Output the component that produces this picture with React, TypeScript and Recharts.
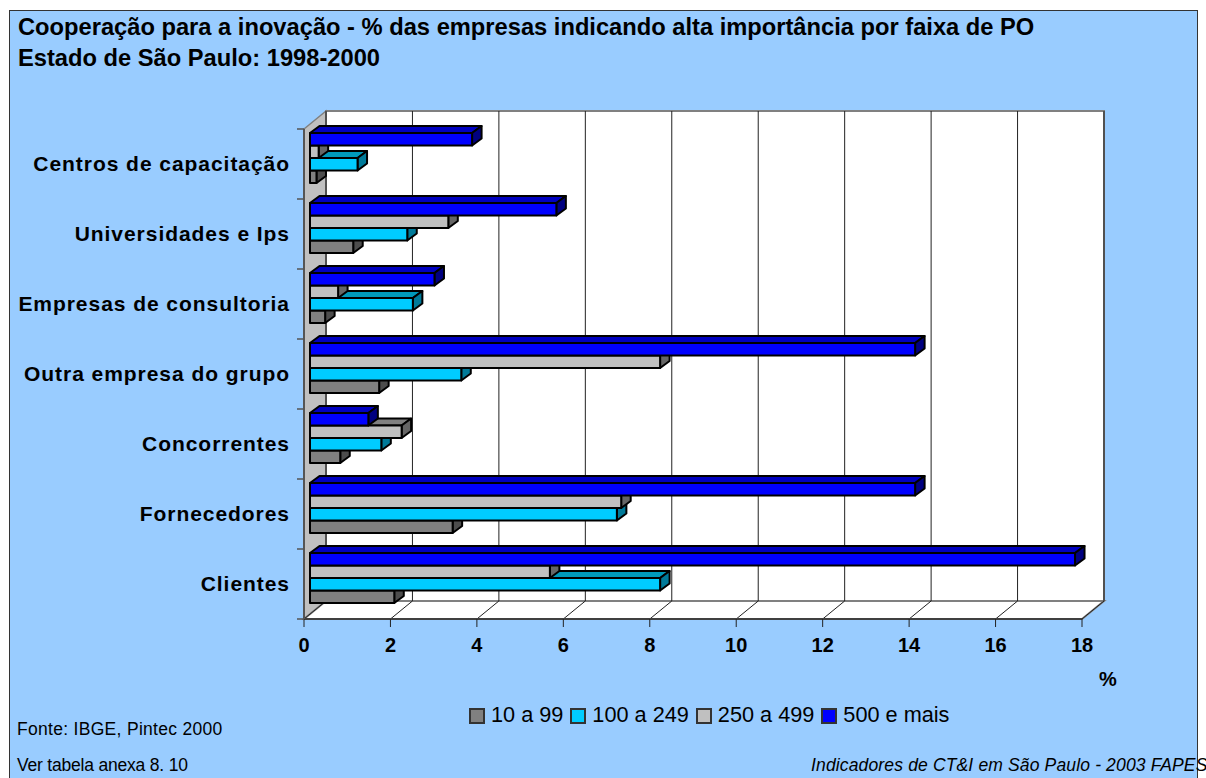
import { Bar, BarChart, CartesianGrid, Legend, XAxis, YAxis } from "recharts"

const categories = [
  "Centros de capacitação",
  "Universidades e Ips",
  "Empresas de consultoria",
  "Outra empresa do grupo",
  "Concorrentes",
  "Fornecedores",
  "Clientes",
]
const s500 = [3.75, 5.7, 2.88, 14.0, 1.35, 14.0, 17.7]
const s250 = [0.2, 3.2, 0.65, 8.1, 2.12, 7.2, 5.55]
const s100 = [1.1, 2.25, 2.38, 3.5, 1.65, 7.1, 8.1]
const s10 = [0.15, 1.0, 0.35, 1.6, 0.7, 3.3, 1.95]
const xTicks = [0, 2, 4, 6, 8, 10, 12, 14, 16, 18]

const data = categories.map((name, i) => ({
  name,
  "500 e mais": s500[i],
  "250 a 499": s250[i],
  "100 a 249": s100[i],
  "10 a 99": s10[i],
}))

const FONT = "'Liberation Sans', Arial, sans-serif"
const WALL_DX = 22
const WALL_DY = 18
const BAR_DX = 9.5
const BAR_DY = 7

// darker faces of each bar colour: [top, side]
const faces: Record<string, [string, string]> = {
  "#0000ff": ["#0000c0", "#000080"],
  "#c0c0c0": ["#808080", "#666666"],
  "#00ccff": ["#0099bb", "#007a99"],
  "#808080": ["#606060", "#4d4d4d"],
}

function Bar3D(props: any) {
  const { x, y, width, height, fill } = props
  const fx = x + 6
  const fy = y - 6
  const [top, side] = faces[fill]
  return (
    <g stroke="#000" strokeWidth={2} strokeLinejoin="round">
      <polygon
        points={`${fx},${fy} ${fx + BAR_DX},${fy - BAR_DY} ${fx + width + BAR_DX},${fy - BAR_DY} ${fx + width},${fy}`}
        fill={top}
      />
      <polygon
        points={`${fx + width},${fy} ${fx + width + BAR_DX},${fy - BAR_DY} ${fx + width + BAR_DX},${fy + height - BAR_DY} ${fx + width},${fy + height}`}
        fill={side}
      />
      <rect x={fx} y={fy} width={width} height={height} fill={fill} />
    </g>
  )
}

function GridLine(props: any) {
  const { x1, y1, y2 } = props
  return (
    <g stroke="#222" strokeWidth={1}>
      <line x1={x1 + WALL_DX} y1={y1 - WALL_DY} x2={x1 + WALL_DX} y2={y2 - WALL_DY} />
      <line x1={x1} y1={y2} x2={x1 + WALL_DX} y2={y2 - WALL_DY} />
    </g>
  )
}

function CategoryTick(props: any) {
  const { x, y, payload, index } = props
  return (
    <g>
      <line x1={297} y1={y - 35} x2={304} y2={y - 35} stroke="#555" strokeWidth={1.5} />
      {index === categories.length - 1 && (
        <line x1={297} y1={y + 35} x2={304} y2={y + 35} stroke="#555" strokeWidth={1.5} />
      )}
      <text
        x={x - 6}
        y={y + 7}
        textAnchor="end"
        fontFamily={FONT}
        fontWeight="bold"
        fontSize={21}
        letterSpacing={0.95}
        fill="#000"
      >
        {payload.value}
      </text>
    </g>
  )
}

function LegendRow(props: any) {
  const items = [...(props.payload || [])].reverse()
  return (
    <div style={{ display: "flex", alignItems: "center", fontFamily: FONT, fontSize: 21.7, color: "#000" }}>
      {items.map((it: any) => (
        <span key={it.value} style={{ display: "flex", alignItems: "center", marginRight: 7 }}>
          <span
            style={{
              display: "inline-block",
              width: 12,
              height: 12,
              background: it.color,
              border: "2px solid #333",
              marginRight: 6,
              marginTop: 2,
            }}
          />
          {it.value}
        </span>
      ))}
    </div>
  )
}

const abs = (left: number, top: number, extra: any = {}) => ({
  position: "absolute" as const,
  left,
  top,
  fontFamily: FONT,
  whiteSpace: "nowrap" as const,
  color: "#000",
  ...extra,
})

export default function App() {
  return (
    <div style={{ position: "absolute", left: 0, top: 0, width: 1206, height: 778, overflow: "hidden", background: "#fff" }}>
      <div
        style={{
          position: "absolute",
          left: 9,
          top: 10,
          width: 1187,
          height: 780,
          background: "#99ccff",
          border: "1.5px solid #333",
        }}
      />
      <svg width={1206} height={778} style={{ position: "absolute", left: 0, top: 0 }}>
        <polygon points="304,129 326,111 326,601 304,619" fill="#c0c0c0" stroke="#808080" strokeWidth={1.5} />
        <polygon points="326,111 1104,111 1104,601 326,601" fill="#fff" stroke="#808080" strokeWidth={2} />
        <polygon points="304,619 326,601 1104,601 1082,619" fill="#fff" stroke="#808080" strokeWidth={2} />
      </svg>
      <div style={abs(18, 14, { fontSize: 23.7, fontWeight: "bold" })}>
        Cooperação para a inovação - % das empresas indicando alta importância por faixa de PO
      </div>
      <div style={abs(18, 45, { fontSize: 23.7, fontWeight: "bold" })}>Estado de São Paulo: 1998-2000</div>
      <div style={abs(1099, 668, { fontSize: 20, fontWeight: "bold" })}>%</div>
      <div style={abs(17, 719, { fontSize: 17.5, letterSpacing: 0.3 })}>Fonte: IBGE, Pintec 2000</div>
      <div style={abs(17, 755, { fontSize: 17.5, letterSpacing: -0.2 })}>Ver tabela anexa 8. 10</div>
      <div style={abs(811, 755, { fontSize: 17.5, fontStyle: "italic", letterSpacing: 0.15 })}>
        Indicadores de CT&amp;I em São Paulo - 2003 FAPESP
      </div>
      <div style={{ position: "absolute", left: 0, top: 0 }}>
        <BarChart
          width={1206}
          height={778}
          data={data}
          layout="vertical"
          margin={{ top: 129, right: 124, bottom: 0, left: 0 }}
          barSize={12.5}
          barGap={0}
        >
          <CartesianGrid horizontal={false} vertical={(p: any) => <GridLine key={p.key} {...p} />} stroke="#222" />
          <XAxis
            type="number"
            domain={[0, 18]}
            ticks={xTicks}
            interval={0}
            height={159}
            tickSize={8}
            tickMargin={11}
            stroke="#404040"
            strokeWidth={2}
            tickLine={{ stroke: "#222", strokeWidth: 1 }}
            tick={{ fill: "#000", fontFamily: FONT, fontWeight: "bold", fontSize: 20 }}
          />
          <YAxis
            type="category"
            dataKey="name"
            width={304}
            interval={0}
            tickLine={false}
            stroke="#555"
            strokeWidth={2}
            tick={<CategoryTick />}
          />
          <Bar dataKey="500 e mais" fill="#0000ff" zIndex={304} isAnimationActive={false} shape={<Bar3D />} />
          <Bar dataKey="250 a 499" fill="#c0c0c0" zIndex={303} isAnimationActive={false} shape={<Bar3D />} />
          <Bar dataKey="100 a 249" fill="#00ccff" zIndex={302} isAnimationActive={false} shape={<Bar3D />} />
          <Bar dataKey="10 a 99" fill="#808080" zIndex={301} isAnimationActive={false} shape={<Bar3D />} />
          <Legend
            layout="horizontal"
            verticalAlign="middle"
            align="center"
            itemSorter={null as any}
            content={<LegendRow />}
            wrapperStyle={{ position: "absolute", left: 469, top: 702, width: 520 }}
          />
        </BarChart>
      </div>
    </div>
  )
}
